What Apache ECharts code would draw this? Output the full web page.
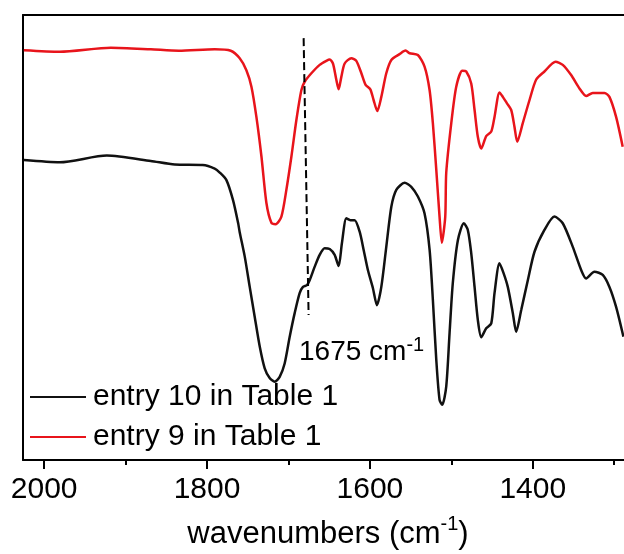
<!DOCTYPE html>
<html>
<head>
<meta charset="utf-8">
<script src="https://cdn.jsdelivr.net/npm/echarts@6/dist/echarts.min.js"></script>
<style>html,body{margin:0;padding:0;background:#fff;}#c{width:624px;height:554px;}</style>
</head>
<body>
<div id="c"></div>
<script>
// wavenumber (cm-1) and relative transmittance (arbitrary %)
const redWave = [2025,1980.7,1918.2,1869.1,1834.7,1790.6,1770.9,1759.9,1751.7,1745.5,1739.4,1733.2,1727.1,1721.0,1715.7,1708.7,1702.6,1696.4,1690.3,1684.2,1680.1,1671.9,1661.7,1653.5,1649.4,1645.4,1641.2,1638.4,1635.1,1631.0,1622.8,1616.7,1610.5,1605.3,1599.5,1595.5,1590.9,1586.0,1579.9,1573.7,1563.6,1556.2,1551.3,1541.1,1532.9,1526.7,1522.7,1518.5,1514.5,1511.7,1507.5,1506.3,1500.1,1494.0,1486.6,1481.7,1475.6,1471.5,1467.5,1463.3,1457.2,1451.0,1447.0,1440.9,1436.8,1431.9,1426.5,1422.5,1419.1,1412.3,1404.0,1395.8,1385.7,1372.1,1363.2,1352.9,1342.7,1334.5,1326.4,1312.0,1305.9,1297.7,1289.6];
const redT = [92.1,91.75,92.65,92.3,91.97,92.3,91.97,90.27,87.6,83.9,77.1,68.2,57.75,53.3,53.0,54.7,60.7,68.2,76.4,83.1,85.0,86.9,88.8,89.7,90.0,89.1,85.4,83.3,86.1,89.1,90.3,89.7,86.9,84.3,83.3,80.9,78.4,81.6,86.9,89.9,91.2,92.0,91.4,91.0,88.4,83.1,75.7,65.2,54.7,48.8,54.7,64.5,75.7,83.9,87.5,87.3,84.6,78.65,72.65,70.0,72.8,73.8,77.1,82.6,81.6,80.2,78.65,74.9,71.5,75.7,80.9,85.5,87.3,89.5,88.8,86.5,83.5,81.8,82.5,82.5,81.6,77.1,70.4];
const blackWave = [2025,1980.7,1923.1,1869.1,1839.6,1805.3,1790.6,1784.4,1776.2,1768.1,1761.9,1759.9,1753.7,1747.6,1741.5,1735.3,1729.2,1723.1,1716.9,1710.8,1704.7,1698.5,1692.4,1686.3,1682.2,1677.3,1674.0,1667.9,1661.7,1655.6,1649.4,1643.3,1638.4,1634.4,1628.9,1624.0,1618.8,1612.6,1607.7,1602.5,1596.3,1591.4,1586.0,1579.9,1573.7,1567.6,1557.4,1549.2,1541.1,1532.9,1526.7,1522.7,1518.5,1514.5,1511.2,1506.3,1502.2,1498.2,1492.0,1484.7,1479.8,1475.6,1471.5,1467.5,1463.3,1457.2,1451.0,1447.0,1440.9,1435.9,1430.7,1424.5,1420.4,1414.2,1406.1,1397.9,1385.7,1373.4,1363.2,1350.9,1340.6,1334.5,1324.3,1314.1,1305.9,1297.7,1288.7];
const blackT = [67.4,66.9,68.4,67.2,66.4,66.3,65.5,64.6,62.9,58.4,53.3,51.2,45.7,38.9,32.2,25.5,20.6,18.4,17.6,18.7,21.7,27.7,33.0,37.5,38.9,39.3,40.4,43.4,46.1,47.6,47.4,46.1,43.6,48.7,54.3,53.9,53.9,51.3,47.2,42.7,38.6,34.8,38.9,47.9,56.9,60.7,62.3,61.4,59.2,55.4,47.2,36.0,22.5,13.5,12.4,16.5,28.5,39.8,49.4,53.2,51.7,46.5,38.9,31.5,27.6,29.6,30.7,37.5,44.2,42.0,38.9,33.0,28.8,33.7,40.4,46.8,51.7,54.7,53.2,47.9,42.7,40.8,42.3,41.6,38.9,34.4,27.7];
const dashWave = [1681.4,1675.3];
const dashT = [94.8,32.6];
const majorTicks = [2000,1800,1600,1400];
const minorTicks = [1900,1700,1500,1300];
const seriesNames = ['entry 10 in Table 1','entry 9 in Table 1'];

const FONT = '"Liberation Sans", Arial, sans-serif';
const zip = (a,b) => a.map((v,i)=>[v,b[i]]);

const chart = echarts.init(document.getElementById('c'), null, {renderer:'canvas'});
const xBase = {type:'value', inverse:true, min:1288, max:2026, splitLine:{show:false}};
chart.setOption({
  animation:false,
  backgroundColor:'#fff',
  grid:{left:23, right:0, top:15, bottom:94, containLabel:false},
  xAxis:[
    Object.assign({}, xBase, {
      position:'bottom',
      axisLine:{show:true, lineStyle:{color:'#000', width:2}},
      axisTick:{show:true, length:9, customValues:majorTicks, lineStyle:{color:'#000', width:2}},
      axisLabel:{show:true, customValues:majorTicks, formatter:v=>String(v), fontSize:30, color:'#000', fontFamily:FONT, margin:15}
    }),
    Object.assign({}, xBase, {
      position:'bottom',
      axisLine:{show:false},
      axisTick:{show:true, length:5, customValues:minorTicks, lineStyle:{color:'#000', width:2}},
      axisLabel:{show:false}
    }),
    Object.assign({}, xBase, {
      position:'top',
      axisLine:{show:true, lineStyle:{color:'#000', width:2}},
      axisTick:{show:false},
      axisLabel:{show:false}
    })
  ],
  yAxis:{type:'value', min:0, max:100, axisLine:{show:true, lineStyle:{color:'#000', width:2}}, axisTick:{show:false}, axisLabel:{show:false}, splitLine:{show:false}},
  legend:{
    data:seriesNames.map(n=>({name:n, icon:'rect'})), orient:'vertical', left:30, top:382, padding:0,
    itemWidth:56, itemHeight:2, itemGap:10,
    textStyle:{fontSize:30, color:'#000', fontFamily:FONT, lineHeight:30, padding:[0,0,0,2]}
  },
  series:[
    {name:seriesNames[0], type:'line', data:zip(blackWave,blackT), symbol:'none', smooth:0.25, lineStyle:{color:'#111', width:2.5}, itemStyle:{color:'#111'}},
    {name:seriesNames[1], type:'line', data:zip(redWave,redT), symbol:'none', smooth:0.25, lineStyle:{color:'#e8141b', width:2.5}, itemStyle:{color:'#e8141b'}},
    {name:'dash', type:'line', data:zip(dashWave,dashT), symbol:'none', lineStyle:{color:'#000', width:2, type:[8,4]}, silent:true}
  ],
  graphic:[
    {type:'text', x:299, y:352, silent:true, style:{
      text:'{n|1675 cm}{s|-1}', align:'left', verticalAlign:'middle',
      rich:{n:{fontSize:28, lineHeight:34, fontFamily:FONT, color:'#000'}, s:{fontSize:20, lineHeight:20, verticalAlign:'top', fontFamily:FONT, color:'#000'}}
    }},
    {type:'text', x:328, y:534, silent:true, style:{
      text:'{n|wavenumbers (cm}{s|-1}{n|)}', align:'center', verticalAlign:'middle',
      rich:{n:{fontSize:31, lineHeight:40, fontFamily:FONT, color:'#000'}, s:{fontSize:20, lineHeight:22, verticalAlign:'top', fontFamily:FONT, color:'#000'}}
    }}
  ]
});
</script>
</body>
</html>
